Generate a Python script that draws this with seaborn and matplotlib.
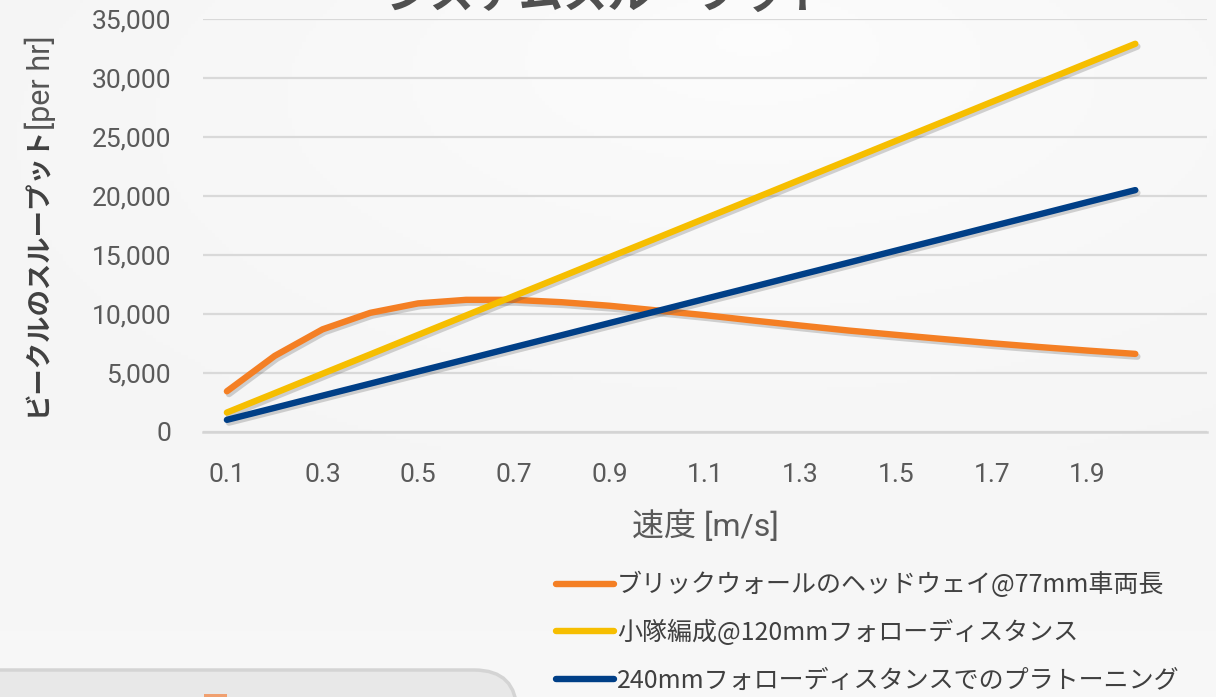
import numpy as np
import pandas as pd
import seaborn as sns
import matplotlib.pyplot as plt
import matplotlib.patheffects as pe
from matplotlib.patches import FancyBboxPatch, Rectangle
from matplotlib.lines import Line2D

# --- data ---
speed = [0.1, 0.2, 0.3, 0.4, 0.5, 0.6, 0.7, 0.8, 0.9, 1.0,
         1.1, 1.2, 1.3, 1.4, 1.5, 1.6, 1.7, 1.8, 1.9, 2.0]
brickwall = [3450, 6450, 8700, 10100, 10900, 11200, 11200, 11000, 10700, 10300,
             9900, 9450, 9020, 8600, 8230, 7870, 7520, 7200, 6900, 6620]
platoon_120 = [1650, 3290, 4940, 6580, 8230, 9870, 11520, 13160, 14810, 16450,
               18100, 19740, 21390, 23030, 24680, 26320, 27970, 29610, 31260, 32900]
platoon_240 = [1030, 2050, 3080, 4100, 5130, 6150, 7180, 8200, 9230, 10250,
               11280, 12300, 13330, 14350, 15380, 16400, 17430, 18450, 19480, 20500]
series_names = ['ブリックウォールのヘッドウェイ@77mm車両長',
                '小隊編成@120mmフォローディスタンス',
                '240mmフォローディスタンスでのプラトーニング']
colors = ['#F47F24', '#F6BE00', '#003F87']
xtick_values = [0.1, 0.3, 0.5, 0.7, 0.9, 1.1, 1.3, 1.5, 1.7, 1.9]
ytick_values = [0, 5000, 10000, 15000, 20000, 25000, 30000, 35000]

df = pd.DataFrame({
    'speed': speed * 3,
    'throughput': brickwall + platoon_120 + platoon_240,
    'series': [n for n in series_names for _ in speed],
})

sns.set_theme(style='white')
plt.rcParams['font.family'] = ['Roboto', 'Noto Sans CJK JP', 'DejaVu Sans']
cjk = ['Noto Sans CJK JP', 'DejaVu Sans']

W, H = 1216, 697
fig = plt.figure(figsize=(W / 100, H / 100), dpi=100)
fig.patch.set_facecolor('#f5f5f5')

# soft background gradient
bg = fig.add_axes([0, 0, 1, 1], zorder=-10)
yy, xx = np.mgrid[0:1:200j, 0:1:350j]
shade = 0.99 - 0.035 * np.clip(np.hypot((xx - 0.62) * 1.2, (yy - 0.05) * 1.6), 0, 1) ** 0.8
shade = np.clip(shade + 0.015 * yy, 0, 1)
bg.imshow(np.dstack([shade] * 3), aspect='auto', extent=[0, 1, 0, 1], origin='upper')
bg.set_axis_off()

# gray card at the bottom left
card = FancyBboxPatch((-0.05, -0.1), 0.425 + 0.05, (697 - 670) / H + 0.1,
                      boxstyle='round,pad=0,rounding_size=0.035',
                      transform=fig.transFigure, facecolor='#e8e8e8',
                      edgecolor='#d4d4d4', linewidth=2.5, zorder=-5, mutation_aspect=W / H)
fig.patches.append(card)
fig.patches.append(Rectangle((204 / W, 0), 23 / W, 3 / H, transform=fig.transFigure,
                             facecolor='#F0A070', edgecolor='none', zorder=-4))

ax = fig.add_axes([203 / W, 1 - 432 / H, (1207 - 203) / W, (432 - 19) / H])
ax.set_facecolor('none')

sns.lineplot(data=df, x='speed', y='throughput', hue='series', hue_order=series_names,
             palette=colors, linewidth=4.6, legend=False, ax=ax)
for line in ax.lines:
    line.set_solid_capstyle('round')
    line.set_solid_joinstyle('round')
    line.set_path_effects([pe.SimpleLineShadow(offset=(1.5, -2), alpha=0.25, shadow_color='#555555'),
                           pe.Normal()])

ax.set_xlim(0.05, 2.15)
ax.set_ylim(0, 35000)
ax.set_xticks(xtick_values)
ax.set_xticklabels([f'{v:.1f}' for v in xtick_values])
ax.set_xticks(np.round(np.arange(0.05, 2.16, 0.1), 2), minor=True)
ax.set_yticks(ytick_values)
ax.set_yticklabels([f'{v:,}' for v in ytick_values])

ax.yaxis.grid(True, color='#d9d9d9', linewidth=1.6)
ax.xaxis.grid(False)
for s in ['top', 'right', 'left']:
    ax.spines[s].set_visible(False)
ax.spines['bottom'].set_color('#d4d4d4')
ax.spines['bottom'].set_linewidth(1.8)

ax.tick_params(axis='x', which='major', length=0, pad=22, labelsize=19, labelcolor='#5a5a5a')
ax.tick_params(axis='x', which='minor', direction='in', length=7, width=1.6, color='#d4d4d4')
ax.tick_params(axis='y', length=0, pad=23, labelsize=19, labelcolor='#5a5a5a')

ax.set_xlabel('速度 [m/s]', fontsize=23, color='#5a5a5a', labelpad=17)
ax.set_ylabel('')

# y label: bold Japanese part followed by a regular "[per hr]"
ylab = fig.text(38 / W, 1 - 416 / H, 'ビークルのスループット', rotation=90,
                ha='center', va='bottom', fontsize=19, fontweight='bold',
                color='#404040', family=cjk)
fig.canvas.draw()
top = ylab.get_window_extent().y1 / H
fig.text(40 / W, top - 4 / H, '[per hr]', rotation=90, ha='center', va='bottom',
         fontsize=22, color='#555555')

fig.text(0.5, 1 - 8 / H, 'システムスループット', ha='center', va='baseline',
         fontsize=32, fontweight='bold', color='#505050', family=cjk)

handles = [Line2D([0], [0], color=c, linewidth=4.6) for c in colors]
leg = fig.legend(handles, series_names, loc='upper left',
                 bbox_to_anchor=(546 / W, 1 - 562 / H), frameon=False,
                 fontsize=18, handlelength=2.3, handletextpad=0.15,
                 labelspacing=0.86, borderaxespad=0)
for t in leg.get_texts():
    t.set_color('#404040')
    t.set_family(cjk)

fig.savefig('out.png', dpi=100, facecolor=fig.get_facecolor())
